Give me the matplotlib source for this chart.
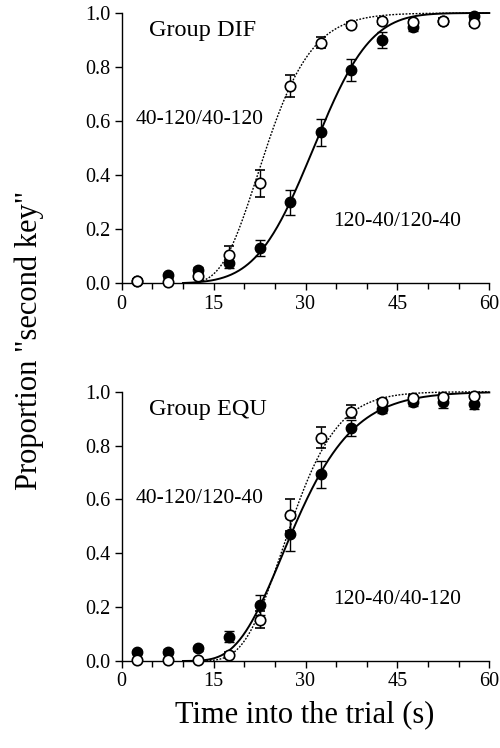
import math
import numpy as np
import matplotlib
matplotlib.use("Agg")
import matplotlib.pyplot as plt
from matplotlib.ticker import MultipleLocator

plt.rcParams['font.family'] = ['Liberation Serif', 'DejaVu Serif']

# ---- data ----
time_bins = [2.5, 7.5, 12.5, 17.5, 22.5, 27.5, 32.5, 37.5, 42.5, 47.5, 52.5, 57.5]

dif_filled = [0.01, 0.03, 0.05, 0.077, 0.13, 0.30, 0.56, 0.79, 0.90, 0.95, 0.97, 0.99]
dif_filled_err = [0.005, 0.01, 0.01, 0.02, 0.03, 0.045, 0.05, 0.04, 0.03, 0.015, 0.01, 0.005]
dif_open = [0.01, 0.005, 0.027, 0.107, 0.37, 0.73, 0.89, 0.955, 0.97, 0.965, 0.97, 0.963]
dif_open_err = [0.005, 0.005, 0.01, 0.03, 0.05, 0.04, 0.02, 0.01, 0.01, 0.01, 0.01, 0.01]

equ_filled = [0.034, 0.035, 0.047, 0.09, 0.207, 0.47, 0.693, 0.866, 0.936, 0.962, 0.96, 0.955]
equ_filled_err = [0.008, 0.008, 0.008, 0.02, 0.037, 0.06, 0.05, 0.03, 0.015, 0.015, 0.02, 0.02]
equ_open = [0.003, 0.003, 0.005, 0.022, 0.154, 0.543, 0.83, 0.926, 0.963, 0.977, 0.98, 0.985]
equ_open_err = [0.003, 0.003, 0.003, 0.01, 0.03, 0.06, 0.04, 0.025, 0.01, 0.01, 0.01, 0.01]

# fitted curve parameters: (kind, location, spread)
dif_open_fit = ("lognormal", 23.6, 0.25)
dif_filled_fit = ("normal", 31.3, 7.3)
equ_open_fit = ("lognormal", 27.5, 0.22)
equ_filled_fit = ("lognormal", 28.2, 0.27)

panel_titles = ["Group DIF", "Group EQU"]
open_labels = ["40-120/40-120", "40-120/120-40"]
filled_labels = ["120-40/120-40", "120-40/40-120"]
x_ticks = [0, 15, 30, 45, 60]
y_ticks = [0.0, 0.2, 0.4, 0.6, 0.8, 1.0]

_erf = np.vectorize(math.erf)


def fit_curve(x, params):
    kind, loc, spread = params
    if kind == "normal":
        z = (x - loc) / spread
    else:
        z = (np.log(x) - np.log(loc)) / spread
    return 0.5 * (1 + _erf(z / math.sqrt(2)))


fig = plt.figure(figsize=(5.0, 7.48), dpi=100)
ax_top = fig.add_axes([0.2434, 0.621, 0.7352, 0.3616])
ax_bot = fig.add_axes([0.2434, 0.1163, 0.7352, 0.360])

panels = [
    (ax_top, dif_filled, dif_filled_err, dif_open, dif_open_err, dif_filled_fit, dif_open_fit),
    (ax_bot, equ_filled, equ_filled_err, equ_open, equ_open_err, equ_filled_fit, equ_open_fit),
]

xs = np.linspace(10, 60, 400)

for i, (ax, fv, fe, ov, oe, ffit, ofit) in enumerate(panels):
    ax.plot(xs, fit_curve(xs, ffit), color='black', lw=1.4, zorder=2, clip_on=False)
    ax.plot(xs, fit_curve(xs, ofit), color='black', lw=1.0, ls=(0, (1.3, 1.1)), zorder=2,
            clip_on=False)
    eb = ax.errorbar(time_bins, fv, yerr=fe, fmt='o', color='black', mfc='black', mec='black',
                     ms=7.5, elinewidth=1.0, capsize=3.3, capthick=1.0, zorder=3)
    for art in eb.lines[0:1] + eb.lines[1] + eb.lines[2]:
        art.set_clip_on(False)
    eb2 = ax.errorbar(time_bins, ov, yerr=oe, fmt='o', color='black', mfc='white', mec='black',
                      mew=1.2, ms=7.5, elinewidth=1.0, capsize=3.3, capthick=1.0, zorder=4)
    for art in eb2.lines[0:1] + eb2.lines[1] + eb2.lines[2]:
        art.set_clip_on(False)

    ax.set_xlim(0, 60)
    ax.set_ylim(0, 1.0)
    ax.spines['top'].set_visible(False)
    ax.spines['right'].set_visible(False)
    ax.spines['left'].set_linewidth(1.0)
    ax.spines['bottom'].set_linewidth(1.0)
    ax.set_xticks(x_ticks)
    ax.set_xticklabels([str(t) for t in x_ticks])
    ax.xaxis.set_minor_locator(MultipleLocator(5))
    ax.set_yticks(y_ticks)
    ax.set_yticklabels([f"{t:.1f}" for t in y_ticks])
    ax.tick_params(axis='both', which='major', direction='out', length=5, width=1.0,
                   labelsize=14.5, pad=3)
    ax.tick_params(axis='x', which='minor', direction='out', length=4, width=1.0)

    ax.text(0.074, 0.935, panel_titles[i], transform=ax.transAxes, fontsize=17.5,
            ha='left', va='center')
    ax.text(0.039, 0.605, open_labels[i], transform=ax.transAxes, fontsize=15.5,
            ha='left', va='center')
    ax.text(0.575, 0.23, filled_labels[i], transform=ax.transAxes, fontsize=15.5,
            ha='left', va='center')

fig.text(0.61, 0.025, "Time into the trial (s)", fontsize=22, ha='center', va='bottom')
fig.text(0.058, 0.545, 'Proportion "second key"', fontsize=22, ha='center', va='center',
         rotation=90)

fig.savefig("out.png", dpi=100)
